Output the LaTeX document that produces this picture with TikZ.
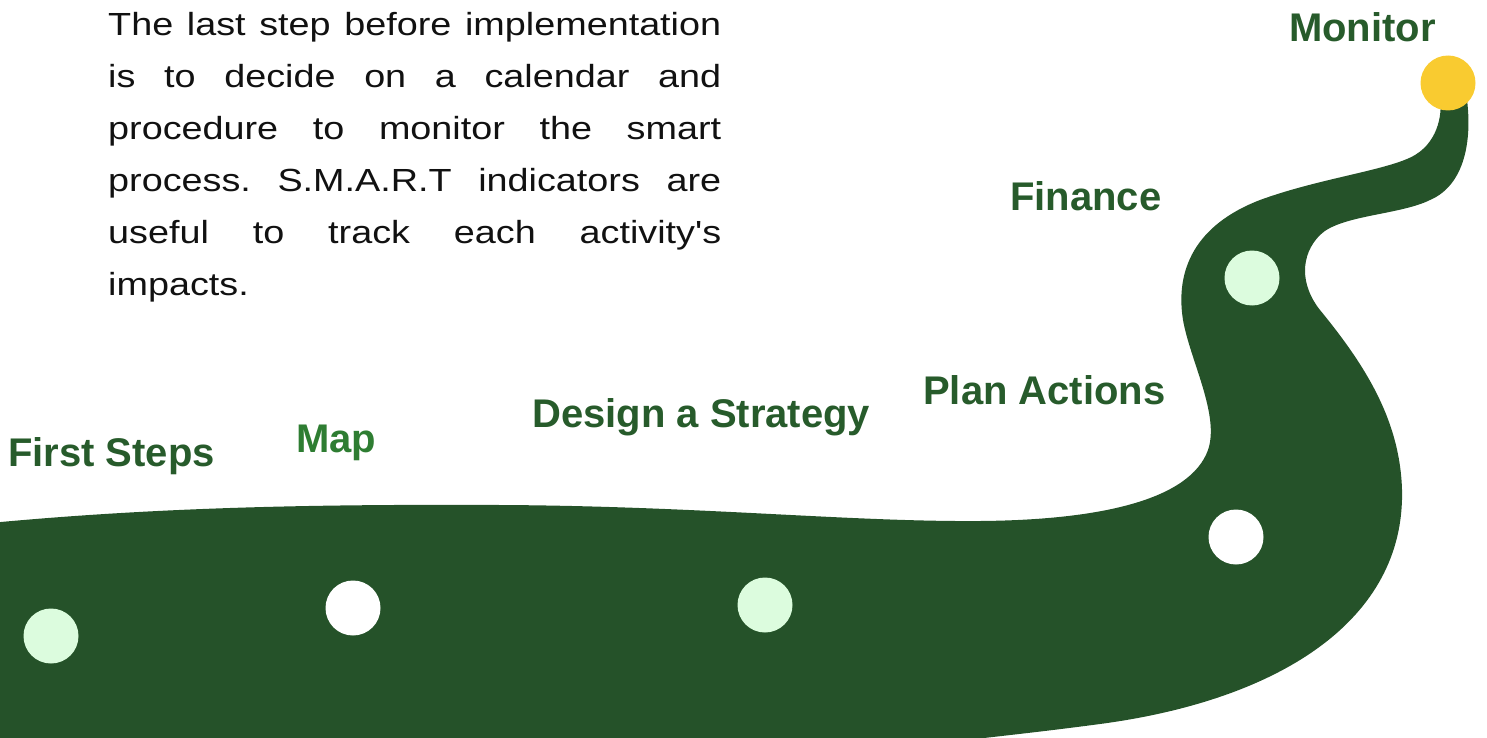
\documentclass[tikz,border=0pt]{standalone}
\usepackage{fontspec}
\setmainfont{Liberation Sans}
\newfontfamily\bodyfont[FakeStretch=1.18, Ligatures=TeXOff]{Liberation Sans}
\definecolor{road}{HTML}{255229}
\definecolor{dotlight}{HTML}{DCFCDE}
\definecolor{dotyellow}{HTML}{F9CB30}
\definecolor{labeldark}{HTML}{275B2B}
\definecolor{labelmid}{HTML}{2E7D32}
\definecolor{bodytext}{HTML}{111111}
\tikzset{
  stopdot/.style={circle, inner sep=0pt, minimum size=55pt, draw=none},
  steplabel/.style={anchor=base west, inner sep=0pt, text=labeldark,
    font=\fontsize{40}{48}\selectfont\bfseries},
}
\begin{document}
\begin{tikzpicture}[x=1pt, y=-1pt]
\useasboundingbox (0,0) rectangle (1487,738);
\begin{scope}
\clip (0,0) rectangle (1487,738);
\fill[road] (-10,523)
  .. controls (150,508) and (300,504) .. (500,505)
  .. controls (700,506) and (850,522) .. (980,521)
  .. controls (1100,520) and (1190,500) .. (1208,450)
  .. controls (1220,415) and (1190,360) .. (1183,320)
  .. controls (1175,270) and (1195,225) .. (1260,200)
  .. controls (1320,178) and (1390,170) .. (1415,155)
  .. controls (1440,140) and (1442,110) .. (1440,100)
  -- (1467,100)
  .. controls (1472,140) and (1465,185) .. (1430,200)
  .. controls (1400,215) and (1340,215) .. (1320,235)
  .. controls (1300,255) and (1300,285) .. (1320,310)
  .. controls (1365,365) and (1400,420) .. (1402,490)
  .. controls (1405,620) and (1280,700) .. (1100,724)
  .. controls (1040,732) and (1000,736) .. (950,742)
  -- (-10,750) -- cycle;
\end{scope}

\node[stopdot, fill=dotlight] (d1) at (51,636) {};
\node[stopdot, fill=white] (d2) at (353,608) {};
\node[stopdot, fill=dotlight] (d3) at (765,605) {};
\node[stopdot, fill=white] (d4) at (1236,537) {};
\node[stopdot, fill=dotlight] (d5) at (1252,278) {};
\node[stopdot, fill=dotyellow] (d6) at (1448,83) {};

\node[steplabel] (l1) at (8,466) {First Steps};
\node[steplabel, text=labelmid] (l2) at (296,452) {Map};
\node[steplabel] (l3) at (532,427) {Design a Strategy};
\node[steplabel] (l4) at (923,404) {Plan Actions};
\node[steplabel] (l5) at (1010,211) {Finance};
\node[steplabel] (l6) at (1289,42) {Monitor};

\node[anchor=base west, inner sep=0pt, text=bodytext] (para) at (108,36) {%
  \parbox[t]{613pt}{\bodyfont\fontsize{32}{52}\selectfont\frenchspacing\hyphenpenalty=10000
  The last step before implementation\linebreak
  is to decide on a calendar and\linebreak
  procedure to monitor the smart\linebreak
  process. S.M.A.R.T indicators are\linebreak
  useful to track each activity's\linebreak
  impacts.}};
\end{tikzpicture}
\end{document}
